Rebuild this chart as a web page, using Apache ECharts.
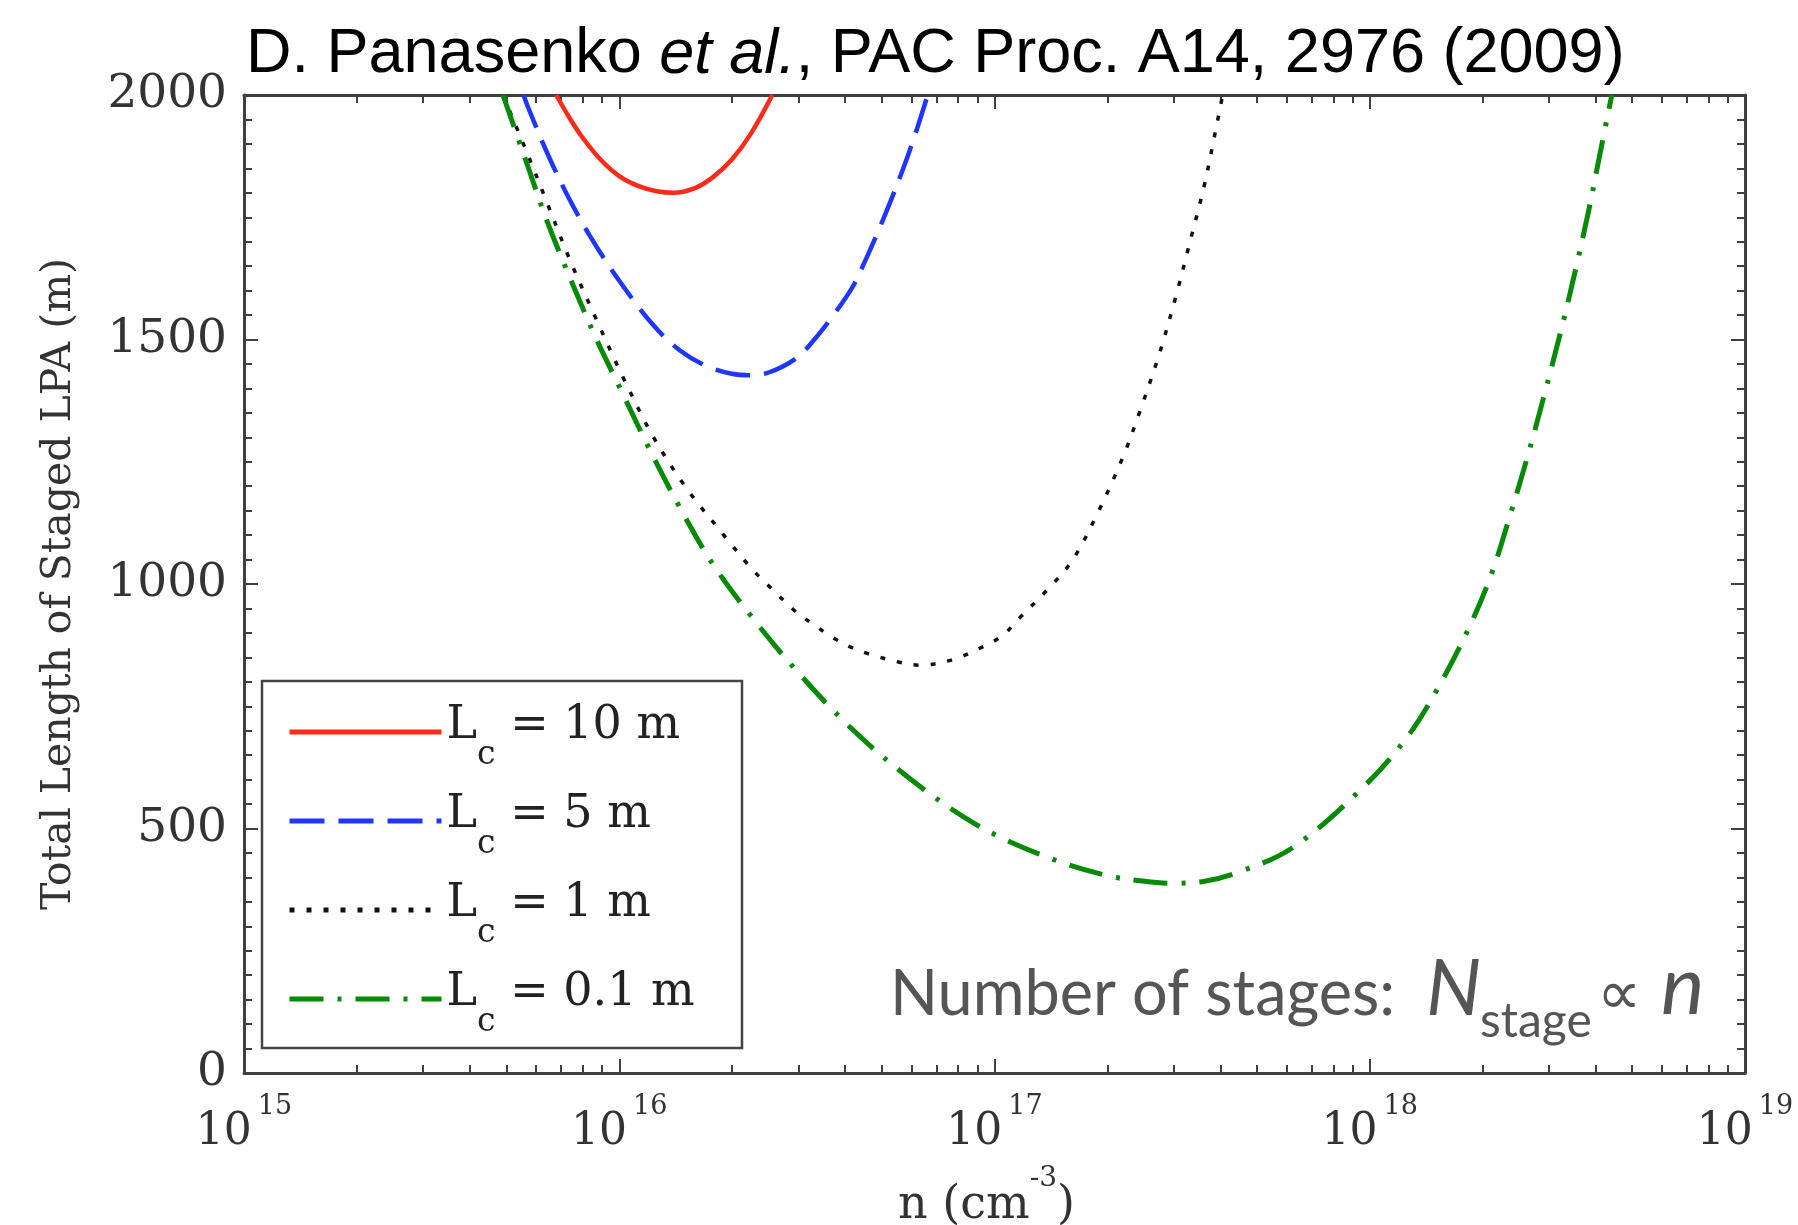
<!DOCTYPE html>
<html><head><meta charset="utf-8">
<script src="https://cdn.jsdelivr.net/npm/echarts@6/dist/echarts.min.js"></script>
<style>html,body{margin:0;padding:0;background:#fff;overflow:hidden}#c{width:1798px;height:1225px}</style>
</head><body><div id="c"></div>
<script>
// ---- data (x = log10 of n in cm^-3, y = total length in m) ----
const xTickExponents = [15, 16, 17, 18, 19];
const yTickValues = [0, 500, 1000, 1500, 2000];
const seriesNames = ['Lc = 10 m', 'Lc = 5 m', 'Lc = 1 m', 'Lc = 0.1 m'];
const legendValues = ['10 m', '5 m', '1 m', '0.1 m'];

const redLogN = [15.832, 15.87, 15.905, 15.95, 16.0, 16.05, 16.10, 16.144, 16.20, 16.25, 16.30, 16.35, 16.408];
const redLen  = [2000, 1950, 1910, 1868, 1834, 1814, 1803, 1800, 1809, 1832, 1868, 1920, 2000];

const blueLogN = [15.745, 15.757, 15.806, 15.859, 15.921, 16.001, 16.090, 16.161, 16.232, 16.30, 16.348, 16.40, 16.472, 16.52, 16.569, 16.62, 16.649, 16.703, 16.756, 16.791, 16.822];
const blueLen  = [2000, 1975, 1885, 1799, 1713, 1619, 1530, 1478, 1446, 1430, 1427, 1433, 1462, 1500, 1548, 1605, 1650, 1745, 1848, 1925, 2000];

const blackLogN = [15.690, 15.75, 15.806, 15.87, 15.939, 16.010, 16.090, 16.179, 16.285, 16.352, 16.40, 16.471, 16.516, 16.566, 16.614, 16.661, 16.747, 16.80, 16.887, 16.97, 17.022, 17.066, 17.142, 17.208, 17.271, 17.342, 17.386, 17.439, 17.484, 17.515, 17.559, 17.586, 17.608];
const blackLen  = [2000, 1890, 1783, 1660, 1541, 1423, 1302, 1196, 1094, 1032, 995, 943, 918, 892, 872, 858, 840, 834, 845, 872, 895, 930, 989, 1049, 1139, 1259, 1350, 1470, 1590, 1682, 1815, 1915, 2000];

const greenLogN = [15.690, 15.753, 15.806, 15.877, 15.939, 16.010, 16.081, 16.161, 16.250, 16.356, 16.471, 16.614, 16.768, 16.947, 17.125, 17.292, 17.40, 17.476, 17.56, 17.648, 17.791, 17.974, 18.097, 18.183, 18.269, 18.326, 18.373, 18.421, 18.468, 18.516, 18.549, 18.583, 18.611, 18.645];
const greenLen  = [2000, 1862, 1745, 1611, 1501, 1388, 1275, 1157, 1040, 930, 824, 708, 606, 510, 446, 405, 392, 388, 392, 410, 459, 578, 684, 789, 918, 1024, 1138, 1262, 1395, 1538, 1645, 1762, 1870, 2000];

const zip = (a, b) => a.map((v, i) => [v, b[i]]);

// minor tick positions (log10 of 2..9 within each decade)
const minorX = [];
for (let d = xTickExponents[0]; d < xTickExponents[xTickExponents.length - 1]; d++) {
  for (let k = 2; k <= 9; k++) minorX.push(d + Math.log10(k));
}

const AX = '#404040';
const SERIF = 'DejaVu Serif';
const xMin = xTickExponents[0], xMax = xTickExponents[xTickExponents.length - 1];

function xAxisCfg(pos, major, labels) {
  return {
    type: 'value', position: pos, min: xMin, max: xMax, interval: 1,
    axisLine: { show: major, onZero: false, lineStyle: { color: AX, width: 3 } },
    splitLine: { show: false },
    axisTick: major ? { inside: true, length: 14, lineStyle: { color: AX, width: 2 } }
                    : { inside: true, length: 8, customValues: minorX, lineStyle: { color: AX, width: 2 } },
    axisLabel: labels ? {
      margin: 20,
      formatter: v => '{b|10}{e|' + v + '}',
      rich: {
        b: { fontFamily: SERIF, fontSize: 44, color: '#333', lineHeight: 62, verticalAlign: 'bottom' },
        e: { fontFamily: SERIF, fontSize: 27, color: '#333', lineHeight: 30, verticalAlign: 'top', padding: [0, 0, 0, 6] }
      }
    } : { show: false },
    name: labels ? '{a|n (cm}{s|-3}{a|)}' : '',
    nameLocation: 'middle', nameGap: 92,
    nameTextStyle: {
      padding: [0, 16, 0, 0],
      rich: {
        a: { fontFamily: SERIF, fontSize: 46, color: '#333', lineHeight: 64, verticalAlign: 'bottom' },
        s: { fontFamily: SERIF, fontSize: 28, color: '#333', lineHeight: 28, verticalAlign: 'top' }
      }
    }
  };
}
function yAxisCfg(pos, labels) {
  return {
    type: 'value', position: pos, min: yTickValues[0], max: yTickValues[yTickValues.length - 1], interval: 500,
    axisLine: { show: true, onZero: false, lineStyle: { color: AX, width: 3 } },
    splitLine: { show: false },
    axisTick: { inside: true, length: 14, lineStyle: { color: AX, width: 2 } },
    minorTick: { show: true, splitNumber: 10, length: 8, lineStyle: { color: AX, width: 2 } },
    axisLabel: labels ? { margin: 17, fontFamily: SERIF, fontSize: 47, color: '#333', formatter: v => String(v) } : { show: false },
    name: labels ? 'Total Length of Staged LPA (m)' : '',
    nameLocation: 'middle', nameGap: 164,
    nameTextStyle: { fontFamily: SERIF, fontSize: 41, color: '#333' }
  };
}

function lineSeries(name, data, color, width, dash) {
  return {
    type: 'line', name, data, xAxisIndex: 0, yAxisIndex: 0,
    symbol: 'none', smooth: 0.35, clip: true, animation: false,
    lineStyle: { color, width, type: dash, cap: 'butt' },
    itemStyle: { color }
  };
}

const chart = echarts.init(document.getElementById('c'), null, { renderer: 'canvas' });
chart.setOption({
  backgroundColor: '#fff',
  animation: false,
  grid: { left: 244, right: 53, top: 95, bottom: 152, containLabel: false, outerBoundsMode: 'none' },
  xAxis: [xAxisCfg('bottom', true, true), xAxisCfg('bottom', false, false),
          xAxisCfg('top', true, false), xAxisCfg('top', false, false)],
  yAxis: [yAxisCfg('left', true), yAxisCfg('right', false)],
  legend: {
    orient: 'vertical', left: 282, top: 698, itemWidth: 152, itemHeight: 20, itemGap: 20,
    data: seriesNames, selectedMode: false,
    itemStyle: { opacity: 0, borderWidth: 0 },
    lineStyle: { width: 5 },
    formatter: name => '{L|L}{c|c}{r| = ' + legendValues[seriesNames.indexOf(name)] + '}',
    textStyle: {
      padding: [0, 0, 12, 0],
      rich: {
        L: { fontFamily: SERIF, fontSize: 46, color: '#222', lineHeight: 92, verticalAlign: 'middle' },
        c: { fontFamily: SERIF, fontSize: 33, color: '#222', lineHeight: 54, verticalAlign: 'bottom' },
        r: { fontFamily: SERIF, fontSize: 46, color: '#222', lineHeight: 92, verticalAlign: 'middle' }
      }
    }
  },
  graphic: [
    { type: 'rect', z: 10, shape: { x: 262, y: 681, width: 480, height: 367 },
      style: { fill: 'rgba(0,0,0,0)', stroke: '#444', lineWidth: 2.5 } },
    { type: 'text', z: 10, style: {
        x: 246, y: 55, verticalAlign: 'middle', align: 'left',
        text: '{n|D. Panasenko }{i|et al.}{n|, PAC Proc. A14, 2976 (2009)}',
        rich: {
          n: { fontFamily: 'Liberation Sans', fontSize: 63, fill: '#000' },
          i: { fontFamily: 'Liberation Sans', fontSize: 63, fontStyle: 'italic', fill: '#000' }
        } } },
    { type: 'text', z: 10, style: { x: 890, y: 995, verticalAlign: 'middle', text: 'Number of stages:',
        fontFamily: 'Lato', fontSize: 63, fill: '#555' } },
    { type: 'text', z: 10, style: { x: 1426, y: 990, verticalAlign: 'middle', text: 'N',
        fontFamily: 'Lato', fontSize: 78, fontStyle: 'italic', fill: '#555' } },
    { type: 'text', z: 10, style: { x: 1480, y: 1022, verticalAlign: 'middle', text: 'stage',
        fontFamily: 'Lato', fontSize: 48, fill: '#555' } },
    { type: 'text', z: 10, style: { x: 1597, y: 998, verticalAlign: 'middle', text: '∝',
        fontFamily: 'DejaVu Sans', fontSize: 62, fill: '#555' } },
    { type: 'text', z: 10, style: { x: 1661, y: 988, verticalAlign: 'middle', text: 'n',
        fontFamily: 'Lato', fontSize: 82, fontStyle: 'italic', fill: '#555' } }
  ],
  series: [
    lineSeries(seriesNames[0], zip(redLogN, redLen), '#ff2a1a', 4.5, 'solid'),
    lineSeries(seriesNames[1], zip(blueLogN, blueLen), '#1f36ff', 4.5, [35, 14]),
    lineSeries(seriesNames[2], zip(blackLogN, blackLen), '#111111', 3.5, [5, 12]),
    lineSeries(seriesNames[3], zip(greenLogN, greenLen), '#078a07', 5, [34, 14, 4, 14])
  ]
});
</script></body></html>
